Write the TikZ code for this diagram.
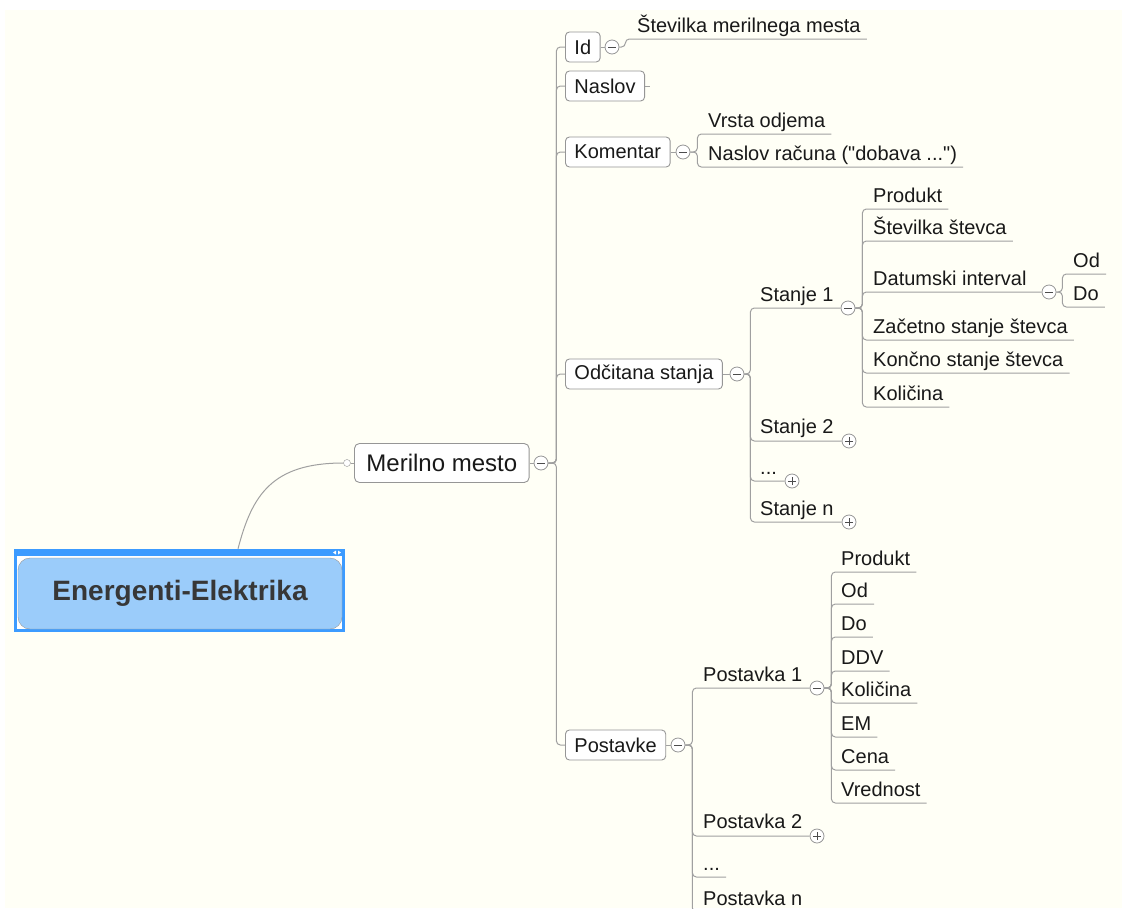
\documentclass[tikz,border=0pt]{standalone}
\usepackage{fontspec}
\setmainfont{Liberation Sans}
\usetikzlibrary{positioning}

\definecolor{paper}{RGB}{255,255,246}
\definecolor{linegray}{RGB}{160,160,160}
\definecolor{boxgray}{RGB}{150,150,150}
\definecolor{rootblue}{RGB}{155,204,250}
\definecolor{selblue}{RGB}{60,155,255}
\definecolor{ink}{RGB}{25,25,25}
\definecolor{rootink}{RGB}{55,55,55}

\tikzset{
  link/.style={draw=linegray, line width=1pt, rounded corners=4pt},
  topic/.style={draw=boxgray, fill=white, rounded corners=4pt, line width=0.9pt,
    anchor=west, minimum height=30pt, inner xsep=9pt, text=ink,
    font=\fontsize{20}{24}\selectfont},
  leaf/.style={anchor=south west, inner sep=0pt, text depth=6.5pt, text=ink,
    font=\fontsize{20}{24}\selectfont},
  fold/.style={circle, draw=boxgray, fill=white, minimum size=14pt, inner sep=0pt,
    line width=0.8pt},
  minus/.style={fold, path picture={
    \draw[black!70, line width=0.9pt]
      ([xshift=-4pt]path picture bounding box.center) -- ([xshift=4pt]path picture bounding box.center);}},
  plus/.style={fold, path picture={
    \draw[black!70, line width=0.9pt]
      ([xshift=-4pt]path picture bounding box.center) -- ([xshift=4pt]path picture bounding box.center)
      ([yshift=-4pt]path picture bounding box.center) -- ([yshift=4pt]path picture bounding box.center);}},
}

\begin{document}
\begin{tikzpicture}[x=1pt,y=-1pt]
\useasboundingbox (0,0) rectangle (1122,908);
\clip (0,0) rectangle (1122,908);
\fill[paper] (5,10) rectangle (1122,908);

% central topic (selected)
\draw[selblue, line width=3pt, fill=white] (15.5,550.5) rectangle (343.5,630.5);
\fill[selblue] (14,549) rectangle (345,556);
\fill[white] (333,552.5) -- (336,550.5) -- (336,554.5) -- cycle;
\fill[white] (338,550.5) -- (341,552.5) -- (338,554.5) -- cycle;
\node[draw=boxgray, fill=rootblue, rounded corners=12pt, minimum width=324pt,
  minimum height=71pt, text=rootink, font=\fontsize{28}{32}\selectfont\bfseries]
  (root) at (180,593.5) {Energenti-Elektrika};

% main topic
\node[circle, draw=boxgray, fill=white, minimum size=7pt, inner sep=0pt] (mmdot) at (347,463) {};
\node[topic, minimum height=39pt, inner xsep=12pt, rounded corners=5pt,
  font=\fontsize{24}{28}\selectfont] (mm) at (354,463) {Merilno mesto};
\node[minus] (mmfold) at (541,463) {};
\draw[link] ([xshift=58pt,yshift=9pt]root.north) .. controls (252,495) and (272,463) .. (mmdot.west);
\draw[link] (mmdot) -- (mm);
\draw[link] (mm) -- (mmfold);

% subtopics
\node[topic] (id) at (565,47) {Id};
\node[topic] (naslov) at (565,86) {Naslov};
\node[topic] (komentar) at (565,152) {Komentar};
\node[topic] (odcitana) at (565,374) {Odčitana stanja};
\node[topic] (postavke) at (565,745) {Postavke};
\foreach \t in {id,naslov,komentar,odcitana,postavke}
  \draw[link] (mmfold.east) -- ++(8,0) |- (\t.west);
\draw[link] (naslov.east) -- ++(5,0);

\node[minus] (idfold) at (612,47) {};
\node[minus] (komfold) at (683,152) {};
\node[minus] (odcfold) at (737,374) {};
\node[minus] (posfold) at (678,745) {};
\draw[link] (id) -- (idfold);
\draw[link] (komentar) -- (komfold);
\draw[link] (odcitana) -- (odcfold);
\draw[link] (postavke) -- (posfold);

% Id
\node[leaf] (stmm) at (637,39) {Številka merilnega mesta};
\draw[link] (idfold.east) -- ++(6,0) |- ([xshift=6pt]stmm.south east);

% Komentar
\node[leaf] (vrsta) at (708,134) {Vrsta odjema};
\node[leaf] (racun) at (708,167) {Naslov računa (\textquotedbl dobava ...\textquotedbl)};
\foreach \t in {vrsta,racun}
  \draw[link] (komfold.east) -- ++(7,0) |- ([xshift=6pt]\t.south east);

% Odcitana stanja
\node[leaf] (st1) at (760,308) {Stanje 1};
\node[leaf] (st2) at (760,440) {Stanje 2};
\node[leaf] (stdots) at (760,481) {...};
\node[leaf] (stn) at (760,522) {Stanje n};
\node[minus] (st1fold) at (848,308) {};
\node[plus] (st2fold) at (849,441) {};
\node[plus] (stdotsfold) at (792,481) {};
\node[plus] (stnfold) at (849,522) {};
\foreach \t in {st1,st2,stdots,stn}
  \draw[link] (odcfold.east) -- ++(6,0) |- (\t fold.west);

% Stanje 1
\foreach \y/\t [count=\i] in {209/Produkt,241/Številka števca,292/Datumski interval,
    340/Začetno stanje števca,373/Končno stanje števca,407/Količina}
  \node[leaf] (s1c\i) at (873,\y) {\t};
\node[minus] (datfold) at (1049,292) {};
\foreach \i in {1,2,4,5,6}
  \draw[link] (st1fold.east) -- ++(7,0) |- ([xshift=6pt]s1c\i.south east);
\draw[link] (st1fold.east) -- ++(7,0) |- (datfold.west);

% Datumski interval
\node[leaf] (od) at (1073,274) {Od};
\node[leaf] (do) at (1073,307) {Do};
\foreach \t in {od,do}
  \draw[link] (datfold.east) -- ++(6,0) |- ([xshift=6pt]\t.south east);

% Postavke
\node[leaf] (p1) at (703,688) {Postavka 1};
\node[leaf] (p2) at (703,835) {Postavka 2};
\node[leaf] (pdots) at (703,877) {...};
\node[leaf] (pn) at (703,912) {Postavka n};
\node[minus] (p1fold) at (817,688) {};
\node[plus] (p2fold) at (817,836) {};
\draw[link] (posfold.east) -- ++(7,0) |- (p1fold.west);
\draw[link] (posfold.east) -- ++(7,0) |- (p2fold.west);
\foreach \t in {pdots,pn}
  \draw[link] (posfold.east) -- ++(7,0) |- ([xshift=6pt]\t.south east);

% Postavka 1
\foreach \y/\t [count=\i] in {572/Produkt,604/Od,637/Do,671/DDV,703/Količina,
    737/EM,770/Cena,803/Vrednost}{
  \node[leaf] (p1c\i) at (841,\y) {\t};
  \draw[link] (p1fold.east) -- ++(7,0) |- ([xshift=6pt]p1c\i.south east);
}
\end{tikzpicture}
\end{document}
